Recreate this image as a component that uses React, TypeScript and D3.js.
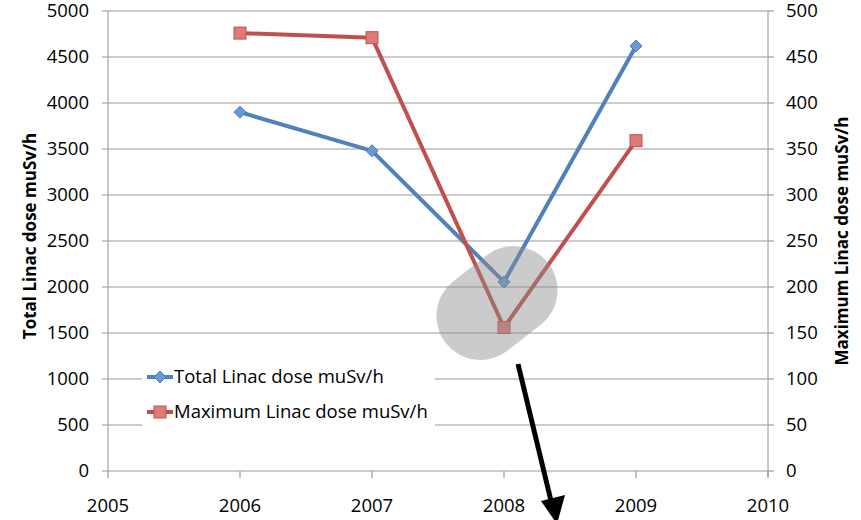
import * as d3 from "d3";

const years = [2006, 2007, 2008, 2009];
const totalDose = [3900, 3480, 2055, 4620];
const maxDose = [476, 471, 156, 359];
const leftTicks = [0, 500, 1000, 1500, 2000, 2500, 3000, 3500, 4000, 4500, 5000];
const rightTicks = [0, 50, 100, 150, 200, 250, 300, 350, 400, 450, 500];
const xTicks = [2005, 2006, 2007, 2008, 2009, 2010];
const seriesNames = ["Total Linac dose muSv/h", "Maximum Linac dose muSv/h"];

const W = 861;
const H = 520;
const left = 108;
const right = 768;
const top = 11;
const bottom = 471;
const font = "'Open Sans', 'Noto Sans', sans-serif";
const blue = "#4f81bd";
const red = "#c0504d";

export default function App() {
  const x = d3.scaleLinear([2005, 2010], [left, right]);
  const yL = d3.scaleLinear([0, 5000], [bottom, top]);
  const yR = d3.scaleLinear([0, 500], [bottom, top]);

  const lineL = d3.line<number>((_, i) => x(years[i]), d => yL(d));
  const lineR = d3.line<number>((_, i) => x(years[i]), d => yR(d));

  const diamond = (cx: number, cy: number, r: number) =>
    `M${cx},${cy - r}L${cx + r},${cy}L${cx},${cy + r}L${cx - r},${cy}Z`;

  return (
    <svg width={W} height={H} style={{ position: "absolute", left: 0, top: 0 }} fontFamily={font}>
      <rect width={W} height={H} fill="#fff" />
      {/* grid */}
      {leftTicks.map(t => (
        <g key={t}>
          <line x1={left - 6} x2={right} y1={yL(t)} y2={yL(t)} stroke="#9a9a9a" strokeWidth={1.2} />
          <text x={89} y={yL(t)} dy="0.35em" textAnchor="end" fontSize={18.5} fill="#000">{t}</text>
        </g>
      ))}
      {rightTicks.map(t => (
        <g key={t}>
          <line x1={right} x2={right + 6} y1={yR(t)} y2={yR(t)} stroke="#9a9a9a" strokeWidth={1.2} />
          <text x={786} y={yR(t)} dy="0.35em" textAnchor="start" fontSize={18.5} fill="#000">{t}</text>
        </g>
      ))}
      <line x1={left} x2={left} y1={top} y2={bottom} stroke="#a6a6a6" strokeWidth={1.2} />
      <line x1={right} x2={right} y1={top} y2={bottom + 6} stroke="#a6a6a6" strokeWidth={1.2} />
      {xTicks.map(t => (
        <g key={t}>
          <line x1={x(t)} x2={x(t)} y1={bottom} y2={bottom + 7} stroke="#9a9a9a" strokeWidth={1.2} />
          <text x={x(t)} y={506} dy="0.35em" textAnchor="middle" fontSize={18.5} fill="#000">{t}</text>
        </g>
      ))}
      {/* axis titles */}
      <text transform={`translate(30,236) rotate(-90)`} textAnchor="middle" dy="0.35em"
        fontSize={17} fontWeight="bold">Total Linac dose muSv/h</text>
      <text transform={`translate(842,241) rotate(-90)`} textAnchor="middle" dy="0.35em"
        fontSize={17} fontWeight="bold">Maximum Linac dose muSv/h</text>
      {/* series */}
      <path d={lineL(totalDose) ?? ""} fill="none" stroke={blue} strokeWidth={4} strokeLinejoin="round" />
      <path d={lineR(maxDose) ?? ""} fill="none" stroke={red} strokeWidth={4} strokeLinejoin="round" />
      {totalDose.map((d, i) => (
        <path key={i} d={diamond(x(years[i]), yL(d), 6)} fill="#6a9ad3" stroke="#4a7ab5" strokeWidth={1} />
      ))}
      {maxDose.map((d, i) => (
        <rect key={i} x={x(years[i]) - 6} y={yR(d) - 6} width={12} height={12} fill="#e07a78" stroke="#c0504d" strokeWidth={1} />
      ))}
      {/* highlight blob */}
      <rect x={-65} y={-44} width={130} height={88} rx={44} ry={44} fill="#8c8c8c" opacity={0.45}
        transform="translate(497,303) rotate(-38)" />
      {/* legend */}
      <rect x={142} y={360} width={293} height={70} fill="#fff" />
      {seriesNames.map((n, i) => {
        const cy = 377 + i * 35;
        const c = i === 0 ? blue : red;
        return (
          <g key={n}>
            <line x1={147} x2={173} y1={cy} y2={cy} stroke={c} strokeWidth={4} />
            {i === 0
              ? <path d={diamond(160, cy, 6)} fill="#6a9ad3" stroke="#4a7ab5" />
              : <rect x={154} y={cy - 6} width={12} height={12} fill="#e07a78" stroke={red} />}
            <text x={174} y={cy} dy="0.35em" fontSize={18.5} fill="#000">{n}</text>
          </g>
        );
      })}
      {/* arrow */}
      <line x1={518} y1={364} x2={552} y2={505} stroke="#000" strokeWidth={5} />
      <path d="M557,524L541,501L565,495Z" fill="#000" />
    </svg>
  );
}
